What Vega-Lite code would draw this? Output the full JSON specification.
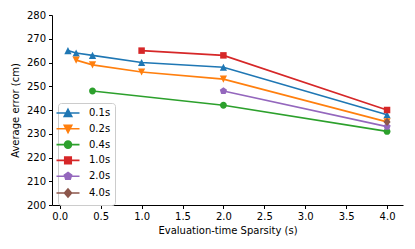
{
  "$schema": "https://vega.github.io/schema/vega-lite/v6.json",
  "width": 351,
  "height": 190,
  "autosize": "none",
  "padding": {"left": 52, "top": 15, "right": 12, "bottom": 44},
  "background": "white",
  "config": {
    "font": "DejaVu Sans",
    "view": {"stroke": null},
    "axis": {
      "grid": false,
      "domainColor": "black",
      "domainWidth": 1,
      "tickColor": "black",
      "tickSize": 3.5,
      "tickWidth": 1,
      "labelFontSize": 10,
      "labelColor": "black",
      "labelFont": "DejaVu Sans",
      "titleFont": "DejaVu Sans",
      "titleFontSize": 10,
      "titleFontWeight": "normal",
      "titleColor": "black",
      "labelPadding": 3
    }
  },
  "data": {
    "values": [
      {"series": "0.1s", "x": 0.1, "y": 265},
      {"series": "0.1s", "x": 0.2, "y": 264},
      {"series": "0.1s", "x": 0.4, "y": 263},
      {"series": "0.1s", "x": 1.0, "y": 260},
      {"series": "0.1s", "x": 2.0, "y": 258},
      {"series": "0.1s", "x": 4.0, "y": 238},
      {"series": "0.2s", "x": 0.2, "y": 261},
      {"series": "0.2s", "x": 0.4, "y": 259},
      {"series": "0.2s", "x": 1.0, "y": 256},
      {"series": "0.2s", "x": 2.0, "y": 253},
      {"series": "0.2s", "x": 4.0, "y": 235},
      {"series": "0.4s", "x": 0.4, "y": 248},
      {"series": "0.4s", "x": 2.0, "y": 242},
      {"series": "0.4s", "x": 4.0, "y": 231},
      {"series": "1.0s", "x": 1.0, "y": 265},
      {"series": "1.0s", "x": 2.0, "y": 263},
      {"series": "1.0s", "x": 4.0, "y": 240},
      {"series": "2.0s", "x": 2.0, "y": 248},
      {"series": "2.0s", "x": 4.0, "y": 233},
      {"series": "4.0s", "x": 4.0, "y": 235}
    ]
  },
  "encoding": {
    "x": {
      "field": "x", "type": "quantitative",
      "scale": {"domain": [-0.095, 4.195], "nice": false, "zero": false},
      "axis": {"values": [0, 0.5, 1, 1.5, 2, 2.5, 3, 3.5, 4], "format": ".1f", "title": "Evaluation-time Sparsity (s)", "titlePadding": 4}
    },
    "y": {
      "field": "y", "type": "quantitative",
      "scale": {"domain": [200, 280], "nice": false, "zero": false},
      "axis": {"values": [200, 210, 220, 230, 240, 250, 260, 270, 280], "title": "Average error (cm)", "titlePadding": 6}
    }
  },
  "resolve": {"legend": {"color": "independent", "shape": "independent"}},
  "layer": [
    {
      "mark": {"type": "line", "strokeWidth": 1.6},
      "encoding": {
        "color": {
          "field": "series", "type": "nominal",
          "scale": {"domain": ["0.1s", "0.2s", "0.4s", "1.0s", "2.0s", "4.0s"], "range": ["#1f77b4", "#ff7f0e", "#2ca02c", "#d62728", "#9467bd", "#8c564b"]},
          "legend": {
            "title": null,
            "orient": "none",
            "legendX": 6,
            "legendY": 88,
            "padding": 4,
            "fillColor": "rgba(255,255,255,0.8)",
            "strokeColor": "#cccccc",
            "cornerRadius": 3,
            "labelFontSize": 10,
            "labelFont": "DejaVu Sans",
            "labelColor": "black",
            "labelOffset": 15,
            "rowPadding": 1.8,
            "symbolSize": 100,
            "symbolStrokeWidth": 1.6,
            "symbolOpacity": 1,
            "encoding": {
              "symbols": {
                "shape": {"value": {"expr": "datum.value == '0.1s' ? 'M-2.3,0H2.3M0,-0.75L0.75,0.7L-0.75,0.7Z' : datum.value == '0.2s' ? 'M-2.3,0H2.3M0,0.75L0.75,-0.7L-0.75,-0.7Z' : datum.value == '0.4s' ? 'M-2.3,0H2.3M0.7,0A0.7,0.7,0,1,1,-0.7,0A0.7,0.7,0,1,1,0.7,0Z' : datum.value == '1.0s' ? 'M-2.3,0H2.3M-0.65,-0.65H0.65V0.65H-0.65Z' : datum.value == '2.0s' ? 'M-2.3,0H2.3M0,-0.75L0.72,-0.23L0.45,0.62L-0.45,0.62L-0.72,-0.23Z' : 'M-2.3,0H2.3M0,-0.8L0.7,0L0,0.8L-0.7,0Z'"}},
                "stroke": {"value": {"expr": "scale('color', datum.value)"}},
                "fill": {"value": {"expr": "scale('color', datum.value)"}},
                "strokeWidth": {"value": 1.6},
                "opacity": {"value": 1}
              }
            }
          }
        }
      }
    },
    {
      "mark": {"type": "point", "filled": true, "opacity": 1, "size": 52},
      "encoding": {
        "color": {"field": "series", "type": "nominal", "legend": null},
        "shape": {
          "field": "series", "type": "nominal",
          "scale": {
            "domain": ["0.1s", "0.2s", "0.4s", "1.0s", "2.0s", "4.0s"],
            "range": [
              "M0,-1L1,1L-1,1Z",
              "M0,1L1,-1L-1,-1Z",
              "M0.95,0A0.95,0.95,0,1,1,-0.95,0A0.95,0.95,0,1,1,0.95,0Z",
              "M-0.9,-0.9H0.9V0.9H-0.9Z",
              "M0,-1.05L1,-0.32L0.62,0.85L-0.62,0.85L-1,-0.32Z",
              "M0,-1.15L1,0L0,1.15L-1,0Z"
            ]
          },
          "legend": null
        }
      }
    }
  ]
}
